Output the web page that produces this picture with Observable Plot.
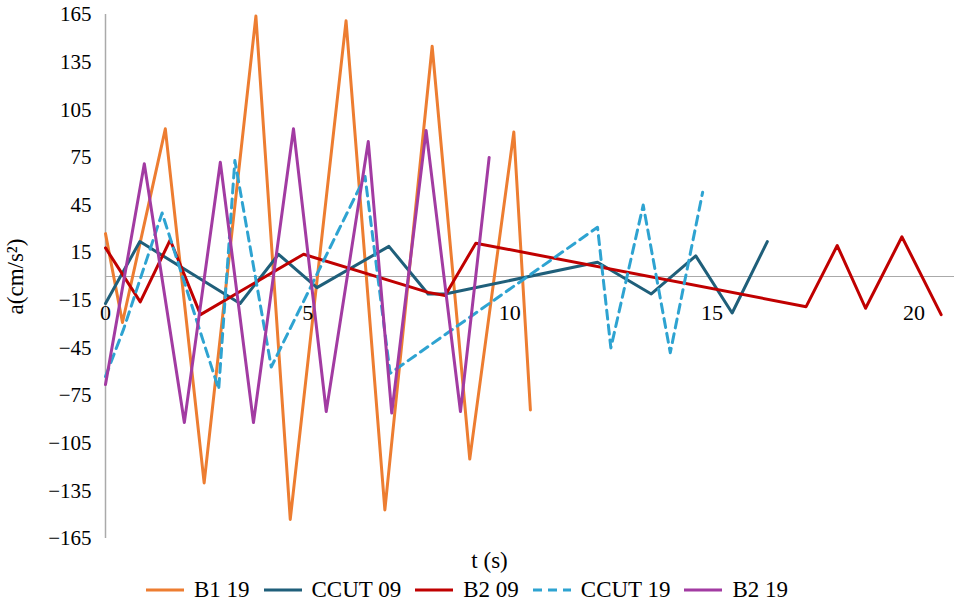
<!DOCTYPE html>
<html><head><meta charset="utf-8">
<script src="https://cdn.jsdelivr.net/npm/d3@7"></script>
<script src="https://cdn.jsdelivr.net/npm/@observablehq/plot@0.6"></script>
<style>
body{margin:0;background:#fff;font-family:"Liberation Serif","DejaVu Serif",serif;}
#legend{display:flex;justify-content:center;align-items:center;gap:14px;font-size:23px;margin-top:2px;margin-left:-20px}
.it{display:flex;align-items:center;gap:10px}
svg text{font-family:"Liberation Serif",serif !important;}
</style></head><body>
<div id="chart"></div>
<div id="legend"></div>
<script>
const seriesNames = ["B1 19","CCUT 09","B2 09","CCUT 19","B2 19"];
const colors = ["#ed7d31","#1f5f7a","#c00000","#2ea3d1","#a23ba2"];
const dashes = [null,null,null,"9,6",null];
const b1_19_t = [0,0.42,1.48,2.44,3.72,4.57,5.95,6.91,8.08,9.01,10.1,10.51];
const b1_19_v = [27,-29,93,-130,164,-153,161,-147,145,-115,91,-84];
const ccut09_t = [0,0.85,3.33,4.28,5.23,7.01,7.98,8.4,12.17,13.5,14.6,15.5,16.37];
const ccut09_v = [-17,22,-17,14,-7,19,-11,-11,9,-11,13,-23,22];
const b2_09_t = [0,0.86,1.6,2.35,4.9,7.98,8.4,9.16,17.33,18.1,18.8,19.7,20.67];
const b2_09_v = [18,-16,23,-24,14,-10,-12,21,-19,19.5,-20,25,-24];
const ccut19_t = [0,0.45,1.4,2.8,3.2,4.1,6.42,7.04,12.17,12.5,13.3,13.97,14.77];
const ccut19_v = [-63,-33,40,-71,73,-57,63,-61,31,-45,45,-48,53];
const b2_19_t = [0,0.96,1.95,2.84,3.66,4.65,5.46,6.5,7.08,7.93,8.78,9.49];
const b2_19_v = [-68,71,-92,72,-92,93,-85,85,-86,92,-85,75];
const yTicks = [165,135,105,75,45,15,-15,-45,-75,-105,-135,-165];
const xTicks = [0,5,10,15,20];

const T = [b1_19_t,ccut09_t,b2_09_t,ccut19_t,b2_19_t];
const V = [b1_19_v,ccut09_v,b2_09_v,ccut19_v,b2_19_v];
const lines = seriesNames.map((n,i)=>Plot.line(T[i].map((t,j)=>({t,v:V[i][j]})),
  {x:"t",y:"v",stroke:colors[i],strokeWidth:3,strokeDasharray:dashes[i]||undefined}));
const F = "Liberation Serif";
const plot = Plot.plot({
  width:954,height:575,marginLeft:105,marginRight:0,marginTop:14,marginBottom:37,
  style:{fontFamily:F,fontSize:"20px",color:"#000",background:"#fff"},
  x:{domain:[0,21],axis:null},
  y:{domain:[-165,165]},
  marks:[
    Plot.ruleY([0],{stroke:"#aaa",strokeWidth:1}),
    Plot.ruleX([0],{stroke:"#aaa",strokeWidth:1.5}),
    Plot.axisY({ticks:yTicks,tickSize:0,tickPadding:14,fontSize:21,fontFamily:F,label:null}),
    ...lines,
    Plot.text(xTicks,{x:d=>d,y:0,text:d=>String(d),dy:36,fontSize:22,fontFamily:F,fill:"#000"}),
    Plot.text(["t (s)"],{x:9.5,y:-165,dy:22,fontSize:23,fontFamily:F,fill:"#000"}),
    Plot.text(["a(cm/s²)"],{x:0,y:0,dx:-90,rotate:-90,fontSize:23,fontFamily:F,fill:"#000"})
  ]
});
document.getElementById("chart").append(plot);
const lg = document.getElementById("legend");
seriesNames.forEach((n,i)=>{
  const d=document.createElement("div");d.className="it";
  d.innerHTML=`<svg width="38" height="6"><line x1="0" y1="3" x2="38" y2="3" stroke="${colors[i]}" stroke-width="3" ${dashes[i]?`stroke-dasharray="${dashes[i]}"`:""}/></svg><span>${n}</span>`;
  lg.append(d);
});
</script></body></html>
